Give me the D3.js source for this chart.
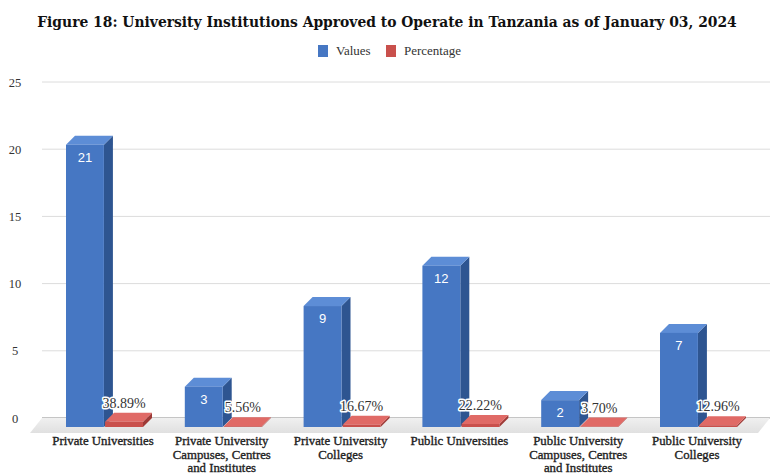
<!DOCTYPE html>
<html>
<head>
<meta charset="utf-8">
<script src="https://cdn.jsdelivr.net/npm/d3@7"></script>
<style>
  html, body { margin: 0; padding: 0; background: #ffffff; }
  svg { display: block; }
</style>
</head>
<body>
<div id="chart"></div>
<script>
// Institution categories and their counts / shares
const categories = [
  ["Private Universities"],
  ["Private University", "Campuses, Centres", "and Institutes"],
  ["Private University", "Colleges"],
  ["Public Universities"],
  ["Public University", "Campuses, Centres", "and Institutes"],
  ["Public University", "Colleges"]
];
const values = [21, 3, 9, 12, 2, 7];
const percentages = [38.89, 5.56, 16.67, 22.22, 3.70, 12.96];
const seriesNames = ["Values", "Percentage"];
const yTicks = [0, 5, 10, 15, 20, 25];
const titleText = "Figure 18: University Institutions Approved to Operate in Tanzania as of January 03, 2024";

const W = 774, H = 475;
const serif = "'Liberation Serif', 'DejaVu Serif', serif";
const sans = "'Liberation Sans', Arial, sans-serif";

const colors = {
  Values: { front: "#4677c3", side: "#2e5591", top: "#5d8dd6" },
  Percentage: { front: "#c9504c", side: "#9e3a37", top: "#e06a66" }
};

// depth of the 3D extrusion
const DX = 9, DY = 9;

const svg = d3.select("#chart").append("svg")
  .attr("width", W).attr("height", H);

const keys = categories.map(c => c.join(" "));
const rows = keys.map((k, i) => ({ key: k, lines: categories[i], Values: values[i], Percentage: percentages[i] / 100 }));

const x0 = d3.scaleBand().domain(keys).range([43.6, 756.4]);
const x1 = d3.scaleBand().domain(seriesNames).range([0, 77]).paddingInner(0.03);
const y = d3.scaleLinear().domain([0, 25]).range([427, 427 - 25 * 13.44]);

// back-wall gridlines
const grid = svg.append("g");
grid.selectAll("line").data(yTicks).join("line")
  .attr("x1", 42).attr("x2", 770)
  .attr("y1", d => y(d) - DY).attr("y2", d => y(d) - DY)
  .attr("stroke", d => d === 0 ? "#8a8a8a" : "#dcdcdc")
  .attr("stroke-width", 1);

// y-axis labels
const yAxis = d3.axisLeft(y.copy().range([427 - DY, 427 - DY - 25 * 13.44]))
  .tickValues(yTicks).tickSize(0).tickPadding(0);
const yg = svg.append("g").attr("transform", "translate(22,0)").call(yAxis);
yg.select(".domain").remove();
yg.selectAll("text")
  .attr("font-family", serif).attr("font-size", 12.5).attr("fill", "#333")
  .attr("x", -7).attr("text-anchor", "middle");

// floor
const defs = svg.append("defs");
const fg = defs.append("linearGradient").attr("id", "floorGrad").attr("x1", 0).attr("x2", 0).attr("y1", 0).attr("y2", 1);
fg.append("stop").attr("offset", "0%").attr("stop-color", "#f0f0f0");
fg.append("stop").attr("offset", "100%").attr("stop-color", "#e0e0e0");
const fy0 = y(0) - DY, fy1 = y(0) + 6;
svg.append("path")
  .attr("d", `M42,${fy0}L770,${fy0}L758,${fy1}L30,${fy1}Z`)
  .attr("fill", "url(#floorGrad)");

// 3D columns
function drawBar(g, xl, w, yTop, yBase, c) {
  g.append("path")
    .attr("d", `M${xl + w},${yTop}L${xl + w + DX},${yTop - DY}L${xl + w + DX},${yBase - DY}L${xl + w},${yBase}Z`)
    .attr("fill", c.side);
  g.append("path")
    .attr("d", `M${xl},${yTop}L${xl + DX},${yTop - DY}L${xl + w + DX},${yTop - DY}L${xl + w},${yTop}Z`)
    .attr("fill", c.top);
  g.append("rect")
    .attr("x", xl).attr("y", yTop).attr("width", w).attr("height", Math.max(0, yBase - yTop))
    .attr("fill", c.front);
}

const groups = svg.append("g").selectAll("g").data(rows).join("g")
  .attr("transform", d => `translate(${x0(d.key) + x0.bandwidth() / 2 - 37},0)`);

groups.each(function (d) {
  const g = d3.select(this);
  seriesNames.forEach(s => {
    drawBar(g, x1(s), x1.bandwidth(), y(d[s]), y(0), colors[s]);
  });
});

// value labels inside the blue columns
groups.append("text")
  .attr("x", x1("Values") + x1.bandwidth() / 2)
  .attr("y", d => y(d.Values) + 17)
  .attr("text-anchor", "middle")
  .attr("font-family", sans).attr("font-size", 13)
  .attr("fill", "#ffffff")
  .text(d => d.Values);

// percentage labels above the red columns
groups.append("text")
  .attr("x", x1("Percentage") + x1.bandwidth() / 2)
  .attr("y", d => y(d.Percentage) - 14)
  .attr("text-anchor", "middle")
  .attr("font-family", serif).attr("font-size", 14)
  .attr("fill", "#333")
  .attr("stroke", "#ffffff").attr("stroke-width", 3)
  .attr("paint-order", "stroke")
  .attr("stroke-linejoin", "round")
  .text((d, i) => percentages[i].toFixed(2) + "%");

// category labels
const xl = svg.append("g").selectAll("text").data(rows).join("text")
  .attr("x", d => x0(d.key) + x0.bandwidth() / 2)
  .attr("y", 445)
  .attr("text-anchor", "middle")
  .attr("font-family", serif).attr("font-size", 12.8)
  .attr("fill", "#222")
  .attr("stroke", "#222").attr("stroke-width", 0.35);
xl.selectAll("tspan").data(d => d.lines).join("tspan")
  .attr("x", function () { return d3.select(this.parentNode).attr("x"); })
  .attr("dy", (d, i) => i === 0 ? 0 : 13.5)
  .text(d => d);

// title, sized to span the chart width
const title = svg.append("text")
  .attr("x", W / 2).attr("y", 27)
  .attr("text-anchor", "middle")
  .attr("font-family", "'DejaVu Serif', serif").attr("font-size", 14).attr("font-weight", "bold")
  .attr("fill", "#111")
  .text(titleText);
const tw = title.node().getComputedTextLength();
title.attr("font-size", 14 * 700 / tw);

// legend
const legend = svg.append("g");
const legendItems = [
  { name: "Values", x: 318, c: colors.Values.front },
  { name: "Percentage", x: 386, c: colors.Percentage.front }
];
legendItems.forEach(it => {
  legend.append("rect").attr("x", it.x).attr("y", 45).attr("width", 10).attr("height", 12).attr("fill", it.c);
  legend.append("text").attr("x", it.x + 18).attr("y", 55)
    .attr("font-family", serif).attr("font-size", 13).attr("fill", "#333")
    .text(it.name);
});
</script>
</body>
</html>
